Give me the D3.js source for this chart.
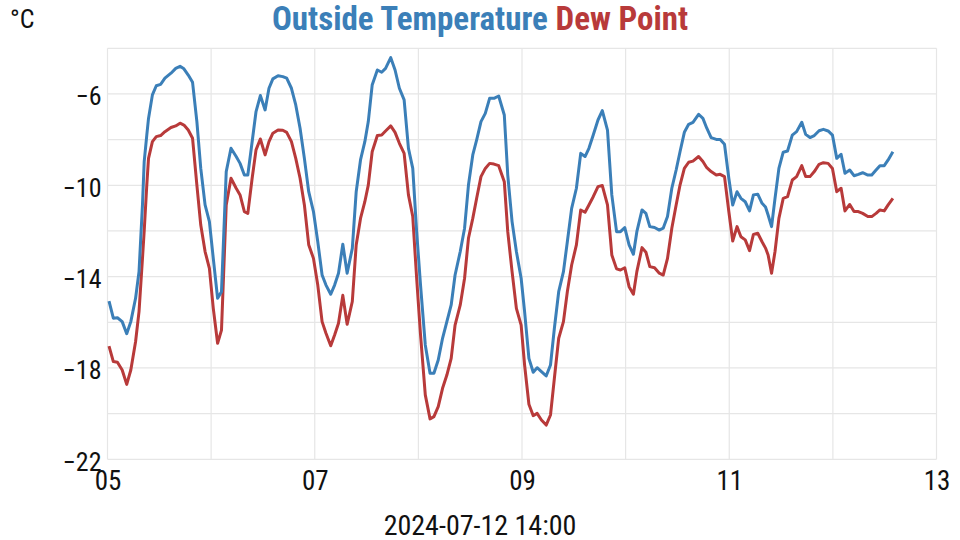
<!DOCTYPE html>
<html>
<head>
<meta charset="utf-8">
<script src="https://cdn.jsdelivr.net/npm/d3@7"></script>
<style>
  html, body { margin: 0; padding: 0; background: #ffffff; }
  svg { display: block; }
  text { font-family: "Roboto Condensed", "Liberation Sans Narrow", "Roboto", sans-serif; }
</style>
</head>
<body>
<svg id="chart" width="960" height="540"></svg>
<script>
// hours after 2024-07-05 00:00 (UTC)
const hours = [0.35,1.35,2.3,3.4,4.45,5.4,6.5,7.3,8.1,8.5,9.1,9.5,10.4,11.3,12.3,13.3,14.7,15.8,16.8,17.7,18.7,19.7,20.7,21.6,22.6,23.6,24.5,25.5,26.4,27.5,28.6,
  29.8,30.7,31.7,32.5,33.5,34.4,35.4,36.5,37.4,38.3,39.5,40.6,41.5,42.6,43.6,44.6,45.6,46.6,47.7,48.7,49.7,50.6,51.7,52.6,53.5,54.5,55.5,56.7,57.6,58.6,59.6,
  60.4,61.3,62.5,63.5,64.4,65.6,66.6,67.6,68.7,69.7,70.7,71.6,72.5,73.6,74.7,75.6,76.6,77.6,78.6,79.6,80.5,81.7,82.7,83.6,84.6,85.5,86.5,87.5,88.5,89.5,90.6,
  91.9,92.7,93.7,94.7,95.8,96.6,97.6,98.6,99.5,100.5,101.6,102.6,103.5,104.5,105.6,106.5,107.5,108.6,109.6,110.6,111.5,112.5,113.6,114.6,115.8,116.8,117.9,118.8,119.8,120.8,121.8,
  122.6,123.8,124.7,125.6,126.7,127.8,128.7,129.7,130.7,131.7,132.6,133.6,134.6,135.6,136.9,137.9,138.8,139.8,141.0,141.9,142.9,143.9,144.8,145.8,146.7,147.7,148.7,149.6,150.6,151.6,
  152.4,153.0,153.8,154.6,155.5,156.5,157.5,158.6,159.6,160.8,161.7,162.7,163.7,164.8,165.8,166.9,167.9,168.9,169.9,170.8,171.9,172.9,173.9,174.9,176.1,177.0,178.0,178.9,179.9,180.8,181.9];

const outsideTemp = [-15.07,-15.82,-15.8,-15.97,-16.5,-15.97,-14.95,-13.78,-10.86,-8.96,-7.8,-7.07,-6.04,-5.64,-5.58,-5.31,-5.09,-4.88,-4.79,-4.9,-5.17,-5.49,-7.21,-9.26,-10.86,-11.59,-13.2,-14.95,-14.66,-9.4,-8.38,
  -8.74,-9.04,-9.55,-9.55,-8.09,-6.77,-6.07,-6.7,-5.75,-5.34,-5.2,-5.24,-5.31,-5.75,-6.48,-7.5,-8.82,-10.28,-11.15,-12.47,-13.93,-14.37,-14.77,-14.37,-13.85,-12.58,-13.85,-12.76,-10.28,-8.89,-8.09,
  -7.21,-5.61,-4.95,-5.05,-4.88,-4.41,-4.95,-5.75,-6.26,-8.38,-9.26,-12.03,-14.37,-16.99,-18.23,-18.23,-17.65,-16.7,-15.97,-15.24,-13.93,-12.9,-11.88,-9.99,-8.67,-8.01,-7.21,-6.85,-6.19,-6.19,-6.09,
  -6.92,-9.55,-11.59,-12.9,-14.07,-15.53,-17.58,-18.19,-17.99,-18.16,-18.35,-17.87,-16.26,-14.66,-13.78,-12.47,-11.01,-10.13,-8.6,-8.74,-8.38,-7.8,-7.14,-6.73,-7.58,-10.42,-12.03,-12.03,-11.85,-12.61,-13.02,
  -12.03,-11.08,-11.23,-11.81,-11.85,-11.96,-11.88,-11.37,-10.13,-9.33,-8.53,-7.68,-7.33,-7.24,-6.89,-7.07,-7.5,-7.91,-7.99,-7.99,-8.2,-9.69,-10.86,-10.28,-10.57,-10.72,-11.12,-10.42,-10.39,-10.79,
  -10.95,-11.3,-11.81,-10.57,-9.26,-8.55,-8.5,-7.8,-7.65,-7.24,-7.77,-7.91,-7.82,-7.61,-7.55,-7.62,-7.8,-8.82,-8.64,-9.47,-9.33,-9.58,-9.52,-9.45,-9.55,-9.55,-9.33,-9.14,-9.14,-8.89,-8.53];

const dewPoint = [-17.04,-17.72,-17.75,-18.09,-18.72,-18.09,-16.85,-15.53,-13.2,-12.0,-9.99,-8.82,-8.09,-7.87,-7.82,-7.65,-7.47,-7.4,-7.28,-7.36,-7.58,-7.94,-9.99,-11.74,-12.9,-13.64,-15.39,-16.92,-16.34,-10.86,-9.69,
  -10.13,-10.42,-11.15,-11.23,-9.69,-8.45,-7.97,-8.67,-8.09,-7.72,-7.58,-7.59,-7.68,-8.09,-8.82,-9.69,-10.86,-12.6,-13.2,-14.37,-15.97,-16.48,-17.03,-16.56,-16.04,-14.82,-16.09,-15.09,-12.61,-11.45,-10.72,
  -9.99,-8.53,-7.82,-7.8,-7.62,-7.4,-7.68,-8.16,-8.6,-10.42,-11.37,-14.07,-16.55,-19.18,-20.23,-20.13,-19.69,-18.89,-18.31,-17.58,-16.12,-15.24,-14.07,-12.32,-11.45,-10.57,-9.62,-9.26,-9.04,-9.07,-9.14,
  -9.84,-12.03,-13.78,-15.39,-16.12,-17.87,-19.59,-20.09,-19.99,-20.28,-20.5,-20.06,-18.45,-16.7,-15.97,-14.66,-13.49,-12.61,-11.08,-11.18,-10.86,-10.5,-10.06,-10.01,-10.86,-13.05,-13.66,-13.71,-13.61,-14.44,-14.77,
  -13.78,-12.73,-12.93,-13.56,-13.61,-13.85,-13.93,-13.2,-11.88,-10.86,-9.99,-9.26,-8.99,-8.94,-8.74,-8.96,-9.23,-9.4,-9.55,-9.52,-9.62,-11.15,-12.44,-11.81,-12.25,-12.39,-12.86,-12.15,-12.1,-12.47,
  -12.75,-13.05,-13.85,-12.9,-11.45,-10.57,-10.5,-9.77,-9.62,-9.14,-9.62,-9.62,-9.4,-9.08,-9.01,-9.04,-9.26,-10.28,-10.13,-11.12,-10.84,-11.15,-11.15,-11.23,-11.37,-11.37,-11.23,-11.08,-11.12,-10.86,-10.57];

const yTickLabels = [-22, -18, -14, -10, -6];
const yGridValues = [-22, -20, -18, -16, -14, -12, -10, -8, -6, -4];
const titleParts = ["Outside Temperature", "Dew Point"];
const unitLabel = "°C";
const timeLabel = "2024-07-12 14:00";

const startMs = Date.UTC(2024, 6, 5, 0, 0);
const endMs = Date.UTC(2024, 6, 13, 0, 0);
const toDate = h => new Date(startMs + h * 3600 * 1000);

const colors = { temp: "#3b7fb8", dew: "#b83a3a", grid: "#e6e6e6" };
const fontFam = "'Roboto Condensed','Liberation Sans Narrow',Roboto,sans-serif";

const svg = d3.select("#chart");
const mLeft = 107.5, mRight = 936.5, mTop = 48.3, mBottom = 459.3;

const x = d3.scaleUtc().domain([new Date(startMs), new Date(endMs)]).range([mLeft, mRight]);
const y = d3.scaleLinear().domain([-22, -4]).range([mBottom, mTop]);

// grid
const grid = svg.append("g");
grid.selectAll("line.h").data(yGridValues).join("line").attr("class", "h")
  .attr("x1", mLeft).attr("x2", mRight)
  .attr("y1", d => y(d)).attr("y2", d => y(d))
  .attr("stroke", colors.grid).attr("stroke-width", 1.2);
grid.selectAll("line.v").data(d3.utcDay.range(new Date(startMs), new Date(endMs + 1))).join("line").attr("class", "v")
  .attr("y1", mTop).attr("y2", mBottom)
  .attr("x1", d => x(d)).attr("x2", d => x(d))
  .attr("stroke", colors.grid).attr("stroke-width", 1.2);

// y axis labels
const yAxis = d3.axisLeft(y).tickValues(yTickLabels).tickSize(0).tickPadding(6);
const gy = svg.append("g").attr("transform", `translate(${mLeft},0)`).call(yAxis);
gy.select(".domain").remove();
gy.selectAll("text").attr("font-size", 26).attr("fill", "#111").attr("dy", "0.42em")
  .attr("font-family", fontFam);

// x axis labels
const xAxis = d3.axisBottom(x).ticks(d3.utcDay.every(2)).tickFormat(d3.utcFormat("%d")).tickSize(0).tickPadding(12);
const gx = svg.append("g").attr("transform", `translate(0,${mBottom})`).call(xAxis);
gx.select(".domain").remove();
gx.selectAll("text").attr("font-size", 27).attr("fill", "#111")
  .attr("font-family", fontFam);

// lines
const rows = hours.map((h, i) => ({ t: toDate(h), temp: outsideTemp[i], dew: dewPoint[i] }));
const lineT = d3.line().x(d => x(d.t)).y(d => y(d.temp));
const lineD = d3.line().x(d => x(d.t)).y(d => y(d.dew));
svg.append("path").datum(rows).attr("d", lineD).attr("fill", "none")
  .attr("stroke", colors.dew).attr("stroke-width", 3).attr("stroke-linejoin", "round");
svg.append("path").datum(rows).attr("d", lineT).attr("fill", "none")
  .attr("stroke", colors.temp).attr("stroke-width", 3).attr("stroke-linejoin", "round");

// title
const title = svg.append("text").attr("x", 480).attr("y", 30).attr("text-anchor", "middle")
  .attr("font-size", 33).attr("font-weight", "bold").attr("font-family", fontFam);
title.append("tspan").attr("fill", colors.temp).text(titleParts[0]);
title.append("tspan").attr("fill", colors.dew).text(" " + titleParts[1]);

svg.append("text").attr("x", 10).attr("y", 28).attr("font-size", 26).attr("fill", "#111")
  .attr("font-family", fontFam).text(unitLabel);

svg.append("text").attr("x", 480).attr("y", 535).attr("text-anchor", "middle")
  .attr("font-size", 28).attr("fill", "#111").attr("font-family", fontFam).text(timeLabel);
</script>
</body>
</html>
